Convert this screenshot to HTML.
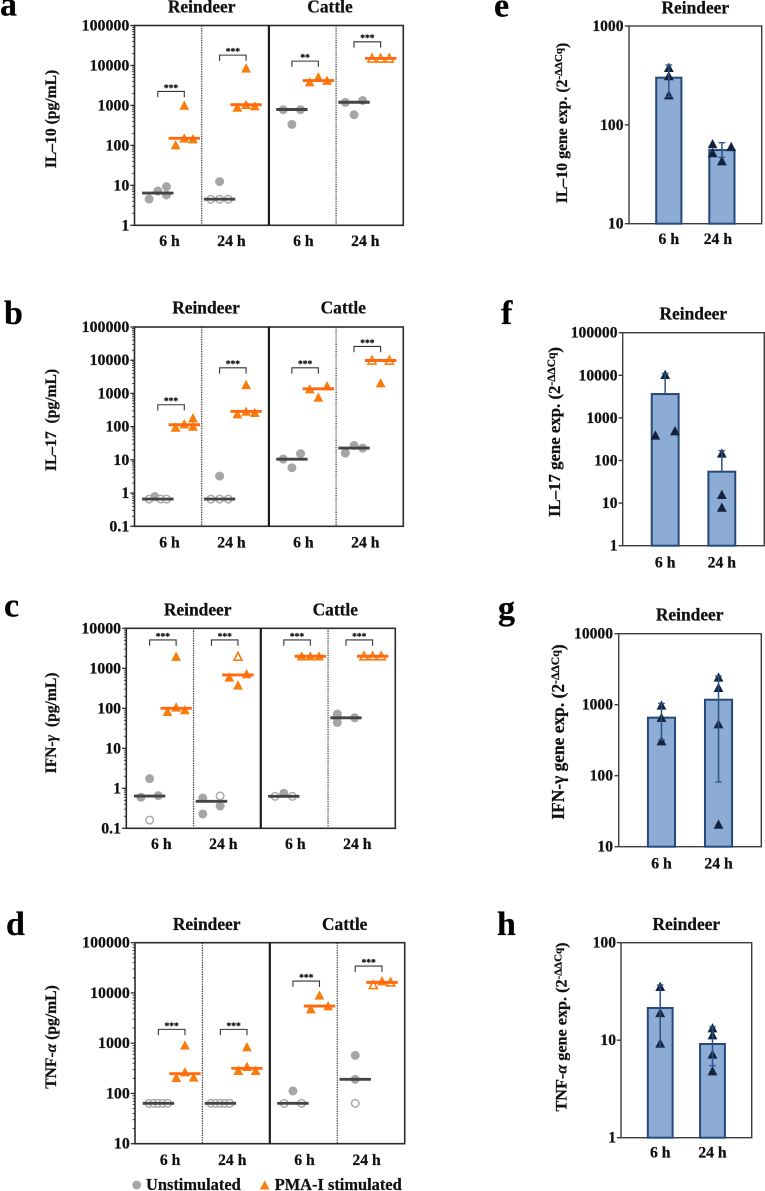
<!DOCTYPE html>
<html lang="en">
<head>
<meta charset="utf-8">
<title>Cytokine secretion and gene expression in reindeer and cattle</title>
<style>
html,body{margin:0;padding:0;background:#fff;}
svg{display:block;}
text{font-family:"Liberation Serif","DejaVu Serif",serif;font-weight:bold;fill:#111;stroke:#111;stroke-width:.25px;}
.letter{font-size:34px;fill:#000;}
.title{font-size:17.4px;text-anchor:middle;}
.ytitle{font-size:15.6px;text-anchor:middle;}
.legend{font-size:16.4px;}
</style>
</head>
<body>
<svg id="figure" width="765" height="1191" viewBox="0 0 765 1191" xmlns="http://www.w3.org/2000/svg">
  <text class="letter" x="0" y="15.7">a</text>
  <text class="letter" x="4" y="324">b</text>
  <text class="letter" x="4" y="616.7">c</text>
  <text class="letter" x="6" y="935">d</text>
  <text class="letter" x="494" y="16.7">e</text>
  <text class="letter" x="501" y="324">f</text>
  <text class="letter" x="498" y="619.3">g</text>
  <text class="letter" x="497" y="935">h</text>

  <text class="title" x="201.7" y="12.5">Reindeer</text>
  <text class="title" x="330" y="12.5">Cattle</text>
  <text class="title" x="206" y="313.5">Reindeer</text>
  <text class="title" x="343.3" y="313.5">Cattle</text>
  <text class="title" x="197.7" y="615.7">Reindeer</text>
  <text class="title" x="335.3" y="615.7">Cattle</text>
  <text class="title" x="206.7" y="930">Reindeer</text>
  <text class="title" x="344.7" y="930">Cattle</text>
  <text class="title" x="695.3" y="13.3">Reindeer</text>
  <text class="title" x="693.3" y="319.3">Reindeer</text>
  <text class="title" x="689.7" y="620.3">Reindeer</text>
  <text class="title" x="686.3" y="930">Reindeer</text>

  <text class="ytitle" transform="translate(56 119) rotate(-90)">IL–10 (pg/mL)</text>
  <text class="ytitle" transform="translate(56 420) rotate(-90)">IL–17&#160; (pg/mL)</text>
  <text class="ytitle" transform="translate(56 723) rotate(-90)">IFN-<tspan font-style="italic">γ</tspan>&#160; (pg/mL)</text>
  <text class="ytitle" transform="translate(56 1037) rotate(-90)">TNF-<tspan font-style="italic">α</tspan> (pg/mL)</text>

  <text class="ytitle" style="font-size:15.8px" transform="translate(567 123) rotate(-90)">IL–10 gene exp. (2<tspan dy="-5" font-size="11">-ΔΔCq</tspan><tspan dy="5">)</tspan></text>
  <text class="ytitle" style="font-size:16.8px" transform="translate(560 432) rotate(-90)">IL–17 gene exp. (2<tspan dy="-5" font-size="11.5">-ΔΔCq</tspan><tspan dy="5">)</tspan></text>
  <text class="ytitle" style="font-size:17.4px" transform="translate(564 732) rotate(-90)">IFN-γ gene exp. (2<tspan dy="-5" font-size="11.8">-ΔΔCq</tspan><tspan dy="5">)</tspan></text>
  <text class="ytitle" style="font-size:16.2px" transform="translate(566.7 1027) rotate(-90)">TNF-<tspan font-style="italic">α</tspan> gene exp. (2<tspan dy="-5" font-size="11">-ΔΔCq</tspan><tspan dy="5">)</tspan></text>

  <g>
    <circle cx="136.7" cy="1185" r="4.4" fill="#a6a6a8"/>
    <text class="legend" x="146" y="1190">Unstimulated</text>
    <path d="M264.7 1180.5 l4.8 9 h-9.6 z" fill="#f97d0c"/>
    <text class="legend" x="274.7" y="1190">PMA-I stimulated</text>
  </g>
</svg>

<script>
/* ---------- shared labels ---------- */
const timeLabels = ['6 h', '24 h', '6 h', '24 h'];
const barLabels = ['6 h', '24 h'];

/* ---------- panel a: IL-10 ---------- */
const ticksA = [1, 10, 100, 1000, 10000, 100000];
const unstimA = [[4.55, 7.2, 9.26, 5.73], [4.5, 12.4, 4.5, 4.5], [780, 335, 780], [1190, 584, 1330]];
const unstimSlotsA = [[-1, 0, 1, 1], [-1, 0, 0, 1], [-1, 0, 1], [-1, 0, 1]];
const unstimOpenA = [[0, 0, 0, 0], [1, 0, 1, 1], [0, 0, 0], [0, 0, 0]];
const unstimMedA = [6.4, 4.5, 790, 1200];
const stimA = [[102, 1000, 150, 144], [891, 8500, 1040, 962], [3830, 5100, 4200], [15000, 15000, 15000]];
const stimSlotsA = [[-1, 0, 0, 1], [-1, 0, 0, 1], [-1, 0, 1], [-1, 0, 1]];
const stimOpenA = [[0, 0, 0, 0], [0, 0, 0, 0], [0, 0, 0], [1, 1, 1]];
const stimMedA = [150, 1040, 4200, 15000];
const sigLevelA = [2239, 18130, 12830, 39080];
const sigTextA = ['***', '***', '**', '***'];

/* ---------- panel b: IL-17 ---------- */
const ticksB = [0.1, 1, 10, 100, 1000, 10000, 100000];
const unstimB = [[0.66, 0.79, 0.66, 0.66], [0.66, 3.25, 0.66, 0.66], [10.6, 5.8, 15.3], [16, 27, 22.6]];
const unstimSlotsB = [[-1, -0.33, 0.33, 1], [-1, 0, 0, 1], [-1, 0, 1], [-1, 0, 1]];
const unstimOpenB = [[1, 0, 1, 1], [1, 0, 1, 1], [0, 0, 0], [0, 0, 0]];
const unstimMedB = [0.66, 0.66, 10.5, 22.6];
const stimB = [[95, 119, 181, 101], [239, 1820, 287, 262], [1350, 760, 1660], [9840, 2050, 9840]];
const stimSlotsB = [[-1, 0, 1, 1], [-1, 0, 0, 1], [-1, 0, 1], [-1, 0, 1]];
const stimOpenB = [[0, 0, 0, 0], [0, 0, 0, 0], [0, 0, 0], [1, 0, 1]];
const stimMedB = [114, 287, 1380, 9800];
const sigLevelB = [456, 5921, 5921, 26000];
const sigTextB = ['***', '***', '***', '***'];

/* ---------- panel c: IFN-gamma ---------- */
const ticksC = [0.1, 1, 10, 100, 1000, 10000];
const unstimC = [[0.596, 1.74, 0.16, 0.656], [0.573, 0.228, 0.643, 0.361], [0.63, 0.75, 0.63], [72, 44, 58, 58]];
const unstimSlotsC = [[-1, 0, 0, 1], [-1, -1, 1, 1], [-1, 0, 1], [-1, -1, -1, 1]];
const unstimOpenC = [[0, 0, 1, 0], [0, 0, 1, 0], [1, 0, 1], [0, 0, 0, 0]];
const unstimMedC = [0.64, 0.473, 0.63, 58];
const stimC = [[82.5, 1960, 106, 91], [596, 1960, 376, 722], [2000, 2000, 2000], [2000, 2000, 2000]];
const stimSlotsC = [[-1, 0, 0, 1], [-1, 0, 0, 1], [-1, 0, 1], [-1, 0, 1]];
const stimOpenC = [[0, 0, 0, 0], [0, 1, 0, 0], [0, 0, 0], [1, 1, 1]];
const stimMedC = [100, 681, 2000, 2000];
const sigLevelC = [5110, 5110, 5110, 5110];
const sigTextC = ['***', '***', '***', '***'];

/* ---------- panel d: TNF-alpha ---------- */
const ticksD = [10, 100, 1000, 10000, 100000];
const unstimD = [[63.5, 63.5, 63.5, 63.5, 63.5], [63.5, 63.5, 63.5, 63.5, 63.5], [63.5, 112, 63.5], [63.5, 191, 573]];
const unstimSlotsD = [[-1.07, -0.53, 0, 0.53, 1.07], [-1.07, -0.53, 0, 0.53, 1.07], [-1, 0, 1], [0, 0, 0]];
const unstimOpenD = [[1, 1, 1, 1, 1], [1, 1, 1, 1, 1], [1, 0, 1], [1, 0, 0]];
const unstimMedD = [63.5, 63.5, 63.5, 191];
const stimD = [[206, 906, 267, 209], [284, 840, 341, 284], [4786, 8950, 5495], [14400, 17260, 16240]];
const stimSlotsD = [[-1, 0, 0, 1], [-1, 0, 0, 1], [-1, 0, 1], [-1, 0, 1]];
const stimOpenD = [[0, 0, 0, 0], [0, 0, 0, 0], [0, 0, 0], [1, 0, 1]];
const stimMedD = [247, 316, 5495, 16240];
const sigLevelD = [1885, 1885, 17260, 34350];
const sigTextD = ['***', '***', '***', '***'];

/* ---------- panel e: IL-10 gene expression ---------- */
const ticksE = [10, 100, 1000];
const barsE = [300, 55.6];
const errHighE = [403, 66];
const errLowE = [193, 46.9];
const pointsE = [[379, 312, 200], [64, 52, 43, 60]];
const pointSlotsE = [[0, 0, 0], [-1, -1, 0, 1]];

/* ---------- panel f: IL-17 gene expression ---------- */
const ticksF = [1, 10, 100, 1000, 10000, 100000];
const barsF = [3630, 54.6];
const errHighF = [11100, 170];
const errLowF = [3630, 54.6];
const pointsF = [[389, 492, 10300], [147, 15.7, 7.9]];
const pointSlotsF = [[-1, 1, 0], [0, 0, 0]];

/* ---------- panel g: IFN-gamma gene expression ---------- */
const ticksG = [10, 100, 1000, 10000];
const barsG = [657, 1175];
const errHighG = [1044, 2534];
const errLowG = [318, 81.5];
const pointsG = [[978, 657, 308], [2427, 1734, 534, 20.6]];
const pointSlotsG = [[0, 0, 0], [0, 0, 0, 0]];

/* ---------- panel h: TNF-alpha gene expression ---------- */
const ticksH = [1, 10, 100];
const barsH = [21.4, 9.14];
const errHighH = [36.8, 13.7];
const errLowH = [8.44, 5.47];
const pointsH = [[35.4, 19.1, 9.28], [13.3, 11.3, 7.16, 4.83]];
const pointSlotsH = [[0, 0, 0], [0, 0, 0, 0]];

const NS = 'http://www.w3.org/2000/svg';
const root = document.getElementById('figure');

function add(parent, tag, name, attrs, txt) {
  const el = document.createElementNS(NS, tag);
  for (const k in attrs) el.setAttribute(k, attrs[k]);
  
  
  if (txt !== undefined) el.textContent = txt;
  parent.appendChild(el);
  return el;
}

function logScale(domMin, domMax, top, bottom) {
  const a = Math.log10(domMin), b = Math.log10(domMax);
  return v => bottom - (Math.log10(v) - a) / (b - a) * (bottom - top);
}

function tri(parent, name, x, y, fill, stroke) {
  const open = stroke !== 'none';
  const hw = open ? 4 : 4.9, up = open ? 4.2 : 5, dn = open ? 3.6 : 4.3;
  const d = 'M' + x + ' ' + (y - up) + ' L' + (x + hw) + ' ' + (y + dn) + ' L' + (x - hw) + ' ' + (y + dn) + ' Z';
  return add(parent, 'path', name, { d: d, fill: fill, stroke: stroke, 'stroke-width': open ? 1.6 : 0, 'stroke-linejoin': 'miter' });
}

function yAxis(g, id, box, ticks, y, labelX, fs, color, minor, sw) {
  ticks.forEach((t, i) => {
    const py = y(t);
    add(g, 'line', id + '-y-tick-' + t, { x1: box.left - 4.2, x2: box.left, y1: py, y2: py, stroke: color, 'stroke-width': sw });
    add(g, 'text', id + '-y-tick-label-' + t, { x: labelX, y: py + 5, 'text-anchor': 'end', 'font-size': fs }, String(t));
    if (minor && i < ticks.length - 1) {
      for (let m = 2; m < 10; m++) {
        const my = y(t * m);
        add(g, 'line', id + '-y-minor-tick', { x1: box.left - 2.4, x2: box.left, y1: my, y2: my, stroke: color, 'stroke-width': 0.9 });
      }
    }
  });
}

/* fractions of the plot width where each group of a scatter panel sits */
const groupFrac = [70 / 807, 149.5 / 807, 255.5 / 807, 335 / 807, 472.5 / 807, 552 / 807, 659 / 807, 739 / 807];
const groupLabelFrac = [105 / 807, 291 / 807, 507 / 807, 693 / 807];
const SLOT = 8.67;

function scatterPanel(id, box, s) {
  const g = add(root, 'g', id + '-scatter-chart', {});
  const y = logScale(s.ticks[0], s.ticks[s.ticks.length - 1], box.top, box.bottom);
  const w = box.right - box.left;
  const x = i => box.left + w * groupFrac[i];
  add(g, 'rect', id + '-plot-frame', { x: box.left, y: box.top, width: w, height: box.bottom - box.top, fill: 'none', stroke: '#2b2b2b', 'stroke-width': 1.6 });
  [0.25, 0.75].forEach((f, i) => {
    add(g, 'line', id + '-time-divider-' + (i + 1), { x1: box.left + w * f, x2: box.left + w * f, y1: box.top, y2: box.bottom, stroke: '#333', 'stroke-width': 1.2, 'stroke-dasharray': '1.3 1.1' });
  });
  add(g, 'line', id + '-species-divider', { x1: box.left + w * 0.5, x2: box.left + w * 0.5, y1: box.top, y2: box.bottom, stroke: '#1c1c1c', 'stroke-width': 2.2 });
  yAxis(g, id, box, s.ticks, y, box.left - 5.2, 15.9, '#2b2b2b', true, 1.3);
  timeLabels.forEach((t, i) => {
    add(g, 'text', id + '-x-label-' + i, { x: box.left + w * groupLabelFrac[i], y: box.labelY, 'text-anchor': 'middle', 'font-size': 15.7 }, t);
  });
  s.unstim.forEach((vals, gi) => {
    const cx = x(gi * 2);
    vals.forEach((v, j) => {
      const px = cx + s.unstimSlots[gi][j] * SLOT;
      const open = s.unstimOpen[gi][j];
      add(g, 'circle', id + '-unstimulated-point', { cx: px, cy: y(v), r: open ? 3.8 : 4.5, fill: open ? '#fff' : '#a6a6a8', stroke: open ? '#a6a6a8' : 'none', 'stroke-width': open ? 1.4 : 0 });
    });
    add(g, 'line', id + '-unstimulated-median', { x1: cx - 15.7, x2: cx + 15.7, y1: y(s.unstimMed[gi]), y2: y(s.unstimMed[gi]), stroke: '#444', 'stroke-width': 2.9 });
  });
  s.stim.forEach((vals, gi) => {
    const cx = x(gi * 2 + 1);
    vals.forEach((v, j) => {
      const px = cx + s.stimSlots[gi][j] * SLOT;
      const open = s.stimOpen[gi][j];
      tri(g, id + '-stimulated-point', px, y(v), open ? '#fff' : '#f97d0c', open ? '#f97d0c' : 'none');
    });
    add(g, 'line', id + '-stimulated-median', { x1: cx - 15.7, x2: cx + 15.7, y1: y(s.stimMed[gi]), y2: y(s.stimMed[gi]), stroke: '#ff6a10', 'stroke-width': 2.9 });
  });
  s.sigLevel.forEach((v, gi) => {
    const x1 = x(gi * 2), x2 = x(gi * 2 + 1), py = y(v);
    add(g, 'path', id + '-significance-bracket', { d: 'M' + x1 + ' ' + (py + 5.8) + ' V' + py + ' H' + x2 + ' V' + (py + 5.8), fill: 'none', stroke: '#333', 'stroke-width': 1.1 });
    add(g, 'text', id + '-significance-stars', { x: (x1 + x2) / 2, y: py - 0.6, 'text-anchor': 'middle', 'font-size': 9.5 }, s.sigText[gi]);
  });
}

function barPanel(id, box, s) {
  const g = add(root, 'g', id + '-bar-chart', {});
  const y = logScale(s.ticks[0], s.ticks[s.ticks.length - 1], box.top, box.bottom);
  const w = box.right - box.left;
  const x = i => box.left + w * (0.3 + 0.4 * i);
  const bw = w * 0.19;
  add(g, 'rect', id + '-plot-frame', { x: box.left, y: box.top, width: w, height: box.bottom - box.top, fill: 'none', stroke: '#3c3c3c', 'stroke-width': 1.4 });
  yAxis(g, id, box, s.ticks, y, box.labelRight, 15.6, '#3c3c3c', false, 1.4);
  s.labels.forEach((t, i) => {
    add(g, 'text', id + '-x-label-' + i, { x: x(i) + (i ? box.labelShift : 0), y: box.labelY, 'text-anchor': 'middle', 'font-size': 15.7 }, t);
  });
  s.bars.forEach((v, i) => {
    const cx = x(i), py = y(v);
    add(g, 'rect', id + '-bar-' + i, { x: cx - bw / 2, y: py, width: bw, height: box.bottom - py, fill: '#8cabd5', stroke: '#25497a', 'stroke-width': 2 });
    s.points[i].forEach((p, j) => {
      tri(g, id + '-replicate-point', cx + s.slots[i][j] * box.slot, y(p), '#14223d', 'none');
    });
    const hi = y(s.errHigh[i]), lo = y(s.errLow[i]);
    add(g, 'line', id + '-error-bar-' + i, { x1: cx, x2: cx, y1: hi, y2: lo, stroke: '#2a5286', 'stroke-width': 1.5 });
    add(g, 'line', id + '-error-cap-high-' + i, { x1: cx - 3.3, x2: cx + 3.3, y1: hi, y2: hi, stroke: '#2a5286', 'stroke-width': 1.3 });
    if (s.errLow[i] < v) {
      add(g, 'line', id + '-error-cap-low-' + i, { x1: cx - 3.3, x2: cx + 3.3, y1: lo, y2: lo, stroke: '#2a5286', 'stroke-width': 1.3 });
    }
  });
}

scatterPanel('a', { left: 134.5, right: 403.3, top: 25.5, bottom: 225.3, labelY: 246 }, { ticks: ticksA, unstim: unstimA, unstimSlots: unstimSlotsA, unstimOpen: unstimOpenA, unstimMed: unstimMedA, stim: stimA, stimSlots: stimSlotsA, stimOpen: stimOpenA, stimMed: stimMedA, sigLevel: sigLevelA, sigText: sigTextA });
scatterPanel('b', { left: 134.5, right: 403.3, top: 327, bottom: 526.3, labelY: 547.3 }, { ticks: ticksB, unstim: unstimB, unstimSlots: unstimSlotsB, unstimOpen: unstimOpenB, unstimMed: unstimMedB, stim: stimB, stimSlots: stimSlotsB, stimOpen: stimOpenB, stimMed: stimMedB, sigLevel: sigLevelB, sigText: sigTextB });
scatterPanel('c', { left: 126.3, right: 395.3, top: 628.3, bottom: 828.3, labelY: 849 }, { ticks: ticksC, unstim: unstimC, unstimSlots: unstimSlotsC, unstimOpen: unstimOpenC, unstimMed: unstimMedC, stim: stimC, stimSlots: stimSlotsC, stimOpen: stimOpenC, stimMed: stimMedC, sigLevel: sigLevelC, sigText: sigTextC });
scatterPanel('d', { left: 135, right: 404.7, top: 942.7, bottom: 1143.7, labelY: 1165 }, { ticks: ticksD, unstim: unstimD, unstimSlots: unstimSlotsD, unstimOpen: unstimOpenD, unstimMed: unstimMedD, stim: stimD, stimSlots: stimSlotsD, stimOpen: stimOpenD, stimMed: stimMedD, sigLevel: sigLevelD, sigText: sigTextD });

barPanel('e', { left: 629, right: 761.7, top: 26, bottom: 223.7, labelY: 244, labelRight: 623.5, labelShift: -4, slot: 9.3 }, { ticks: ticksE, labels: barLabels, bars: barsE, errHigh: errHighE, errLow: errLowE, points: pointsE, slots: pointSlotsE });
barPanel('f', { left: 622.7, right: 764.3, top: 332.7, bottom: 545.7, labelY: 567.3, labelRight: 617.5, labelShift: 0, slot: 9.8 }, { ticks: ticksF, labels: barLabels, bars: barsF, errHigh: errHighF, errLow: errLowF, points: pointsF, slots: pointSlotsF });
barPanel('g', { left: 618.7, right: 761.3, top: 633.7, bottom: 846.7, labelY: 868.3, labelRight: 613, labelShift: 0, slot: 9 }, { ticks: ticksG, labels: barLabels, bars: barsG, errHigh: errHighG, errLow: errLowG, points: pointsG, slots: pointSlotsG });
barPanel('h', { left: 621, right: 751.7, top: 942.7, bottom: 1137.7, labelY: 1157.3, labelRight: 616, labelShift: 0, slot: 9 }, { ticks: ticksH, labels: barLabels, bars: barsH, errHigh: errHighH, errLow: errLowH, points: pointsH, slots: pointSlotsH });
</script>
</body>
</html>
